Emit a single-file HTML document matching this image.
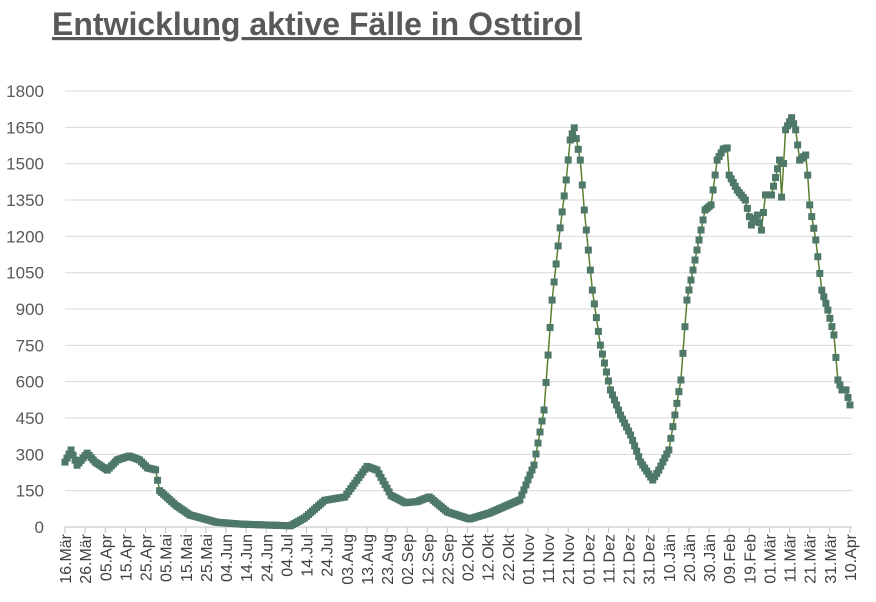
<!DOCTYPE html>
<html><head><meta charset="utf-8"><style>
html,body{margin:0;padding:0;background:#fff;width:876px;height:602px;overflow:hidden}
svg{display:block}
</style></head><body>
<svg id="s" width="876" height="602" xmlns="http://www.w3.org/2000/svg" font-family="Liberation Sans, sans-serif">
<text x="52" y="35" font-size="32" font-weight="bold" fill="#595959" text-decoration="underline">Entwicklung aktive Fälle in Osttirol</text>
</svg>
<script>
var s=document.getElementById('s'),NS='http://www.w3.org/2000/svg';
function el(t,a,txt){var e=document.createElementNS(NS,t);for(var k in a)e.setAttribute(k,a[k]);if(txt!=null)e.textContent=txt;s.appendChild(e);return e;}
var x0=65,x1=852,y0=527,py=36.33/150,dx=(850-65)/390;
for(var v=0;v<=1800;v+=150){var y=y0-v*py;
 if(v>0)el('line',{x1:x0,x2:x1,y1:y,y2:y,stroke:'#d9d9d9','stroke-width':1});
 el('text',{x:44,y:y+6,'font-size':17,fill:'#595959','text-anchor':'end'},String(v));}
el('line',{x1:x0,x2:x1,y1:y0,y2:y0,stroke:'#bfbfbf','stroke-width':1});
var mon=['Jän','Feb','Mär','Apr','Mai','Jun','Jul','Aug','Sep','Okt','Nov','Dez'];
var start=new Date(2020,2,16);
for(var i=0;i<40;i++){var d=new Date(start.getTime()+i*10*864e5+3600e3*3);var x=x0+i*10*dx;
 el('line',{x1:x,x2:x,y1:y0,y2:y0+6,stroke:'#bfbfbf'});
 var lb=(d.getDate()<10?'0':'')+d.getDate()+'.'+mon[d.getMonth()];
 el('text',{x:0,y:0,'font-size':16,fill:'#404040','text-anchor':'end',transform:'translate('+(x+6)+','+(y0+7)+') rotate(-90)'},lb);}
var k=[[0,268],[3,318],[6,255],[11,305],[15,268],[21,235],[26,277],[32,293],[37,277],[41,244],[45,236],[47,150],[55,90],[62,50],[75,20],[87,12],[112,5],[119,37],[129,110],[139,124],[150,250],[155,235],[162,130],[169,100],[175,105],[181,124],[190,62],[201,33],[211,58],[226,112],[233,256],[238,483],[242,937],[246,1235],[249,1433],[251,1598],[253,1648],[256,1515],[258,1309],[262,978],[266,751],[271,566],[276,462],[281,380],[286,268],[292,194],[295,235],[300,318],[306,607],[309,937],[315,1185],[318,1309],[321,1330],[324,1515],[327,1560],[329,1565],[330,1453],[334,1391],[338,1350],[341,1247],[344,1288],[346,1226],[348,1371],[351,1371],[355,1515],[356,1362],[358,1640],[361,1690],[363,1640],[365,1515],[368,1536],[369,1453],[370,1330],[373,1185],[376,978],[379,896],[382,793],[384,607],[386,566],[388,566],[390,504]];
var pts=[],j=0;
for(var dd=0;dd<=390;dd++){while(j<k.length-2&&k[j+1][0]<dd)j++;var a=k[j],b=k[j+1];var t=(dd-a[0])/(b[0]-a[0]);if(t<0)t=0;if(t>1)t=1;var v=a[1]+(b[1]-a[1])*t;pts.push([x0+dd*dx,y0-v*py]);}
el('polyline',{points:pts.map(function(p){return p[0].toFixed(1)+','+p[1].toFixed(1)}).join(' '),fill:'none',stroke:'#5b7f2f','stroke-width':1.5});
pts.forEach(function(p){el('rect',{x:p[0]-3.5,y:p[1]-3.5,width:7,height:7,fill:'#4e7868'});});
</script>
</body></html>
